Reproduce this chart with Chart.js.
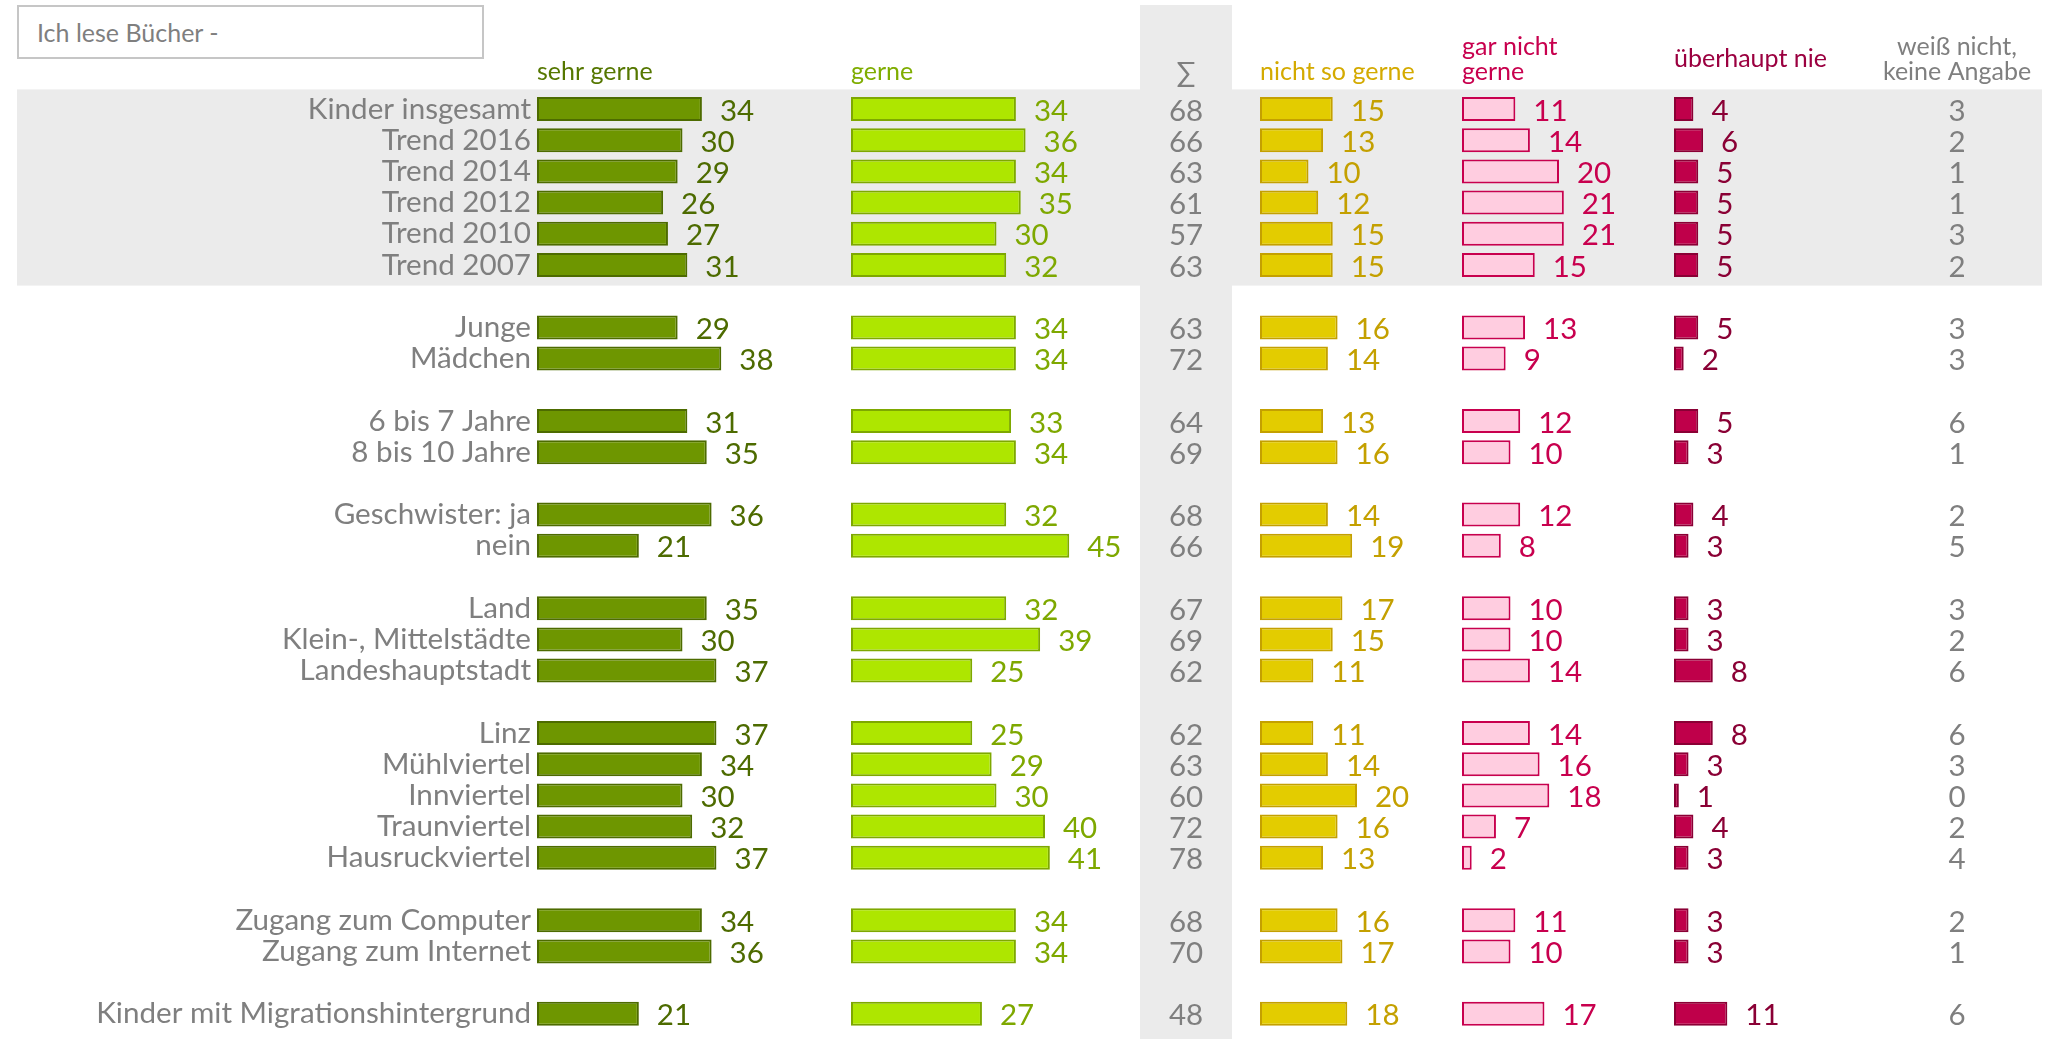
<!DOCTYPE html>
<html lang="de">
<head>
<meta charset="utf-8">
<title>Ich lese Bücher</title>
<script src="https://cdn.jsdelivr.net/npm/chart.js@4.4.1/dist/chart.umd.min.js"></script>
<style>
  html, body { margin: 0; padding: 0; background: #fff; }
  #wrap { position: relative; width: 2050px; height: 1040px; }
  #frage {
    position: absolute; left: 17px; top: 5px; width: 467px; height: 54px;
    box-sizing: border-box; border: 2px solid #c6c6c6; background: #fff;
    font: 25px Lato, sans-serif; color: #7f7f7f; padding-left: 18px; line-height: 50px;
  }
</style>
</head>
<body>
<div id="wrap">
  <canvas id="chart" width="2050" height="1040"></canvas>
  <div id="frage">Ich lese Bücher -</div>
</div>
<script>
// Zeilen in Gruppen, zwischen den Gruppen bleibt eine Leerzeile
const gruppen = [
  ['Kinder insgesamt', 'Trend 2016', 'Trend 2014', 'Trend 2012', 'Trend 2010', 'Trend 2007'],
  ['Junge', 'Mädchen'],
  ['6 bis 7 Jahre', '8 bis 10 Jahre'],
  ['Geschwister: ja', 'nein'],
  ['Land', 'Klein-, Mittelstädte', 'Landeshauptstadt'],
  ['Linz', 'Mühlviertel', 'Innviertel', 'Traunviertel', 'Hausruckviertel'],
  ['Zugang zum Computer', 'Zugang zum Internet'],
  ['Kinder mit Migrationshintergrund']
];

// Werte in %
const sehrGerne     = [34, 30, 29, 26, 27, 31, 29, 38, 31, 35, 36, 21, 35, 30, 37, 37, 34, 30, 32, 37, 34, 36, 21];
const gerne         = [34, 36, 34, 35, 30, 32, 34, 34, 33, 34, 32, 45, 32, 39, 25, 25, 29, 30, 40, 41, 34, 34, 27];
const summe         = [68, 66, 63, 61, 57, 63, 63, 72, 64, 69, 68, 66, 67, 69, 62, 62, 63, 60, 72, 78, 68, 70, 48];
const nichtSoGerne  = [15, 13, 10, 12, 15, 15, 16, 14, 13, 16, 14, 19, 17, 15, 11, 11, 14, 20, 16, 13, 16, 17, 18];
const garNichtGerne = [11, 14, 20, 21, 21, 15, 13, 9, 12, 10, 12, 8, 10, 10, 14, 14, 16, 18, 7, 2, 11, 10, 17];
const ueberhauptNie = [4, 6, 5, 5, 5, 5, 5, 2, 5, 3, 4, 3, 3, 3, 8, 8, 3, 1, 4, 3, 3, 3, 11];
const weissNicht    = [3, 2, 1, 1, 3, 2, 3, 3, 6, 1, 2, 5, 3, 2, 6, 6, 3, 0, 2, 4, 2, 1, 6];

const labels = [];
const zeile = [];
gruppen.forEach((g, gi) => {
  if (gi > 0) labels.push('');
  g.forEach(name => { zeile.push(labels.length); labels.push(name); });
});
function auffuellen(werte) {
  const out = labels.map(() => null);
  werte.forEach((v, i) => { out[zeile[i]] = v; });
  return out;
}

const PX = 4.85; // Pixel je Prozentpunkt
const spalten = [
  { id: 'xSG', breite: 314 },
  { id: 'xG', breite: 289 },
  { id: 'xSum', breite: 92 },
  { id: 'xLuecke', breite: 28 },
  { id: 'xNSG', breite: 202 },
  { id: 'xGNG', breite: 212 },
  { id: 'xUN', breite: 206 },
  { id: 'xWN', breite: 154 }
];

const FONT = 'Lato, sans-serif';
const GRAU = '#7f7f7f';

const scales = {
  y: {
    type: 'category',
    position: 'left',
    grid: { display: false, drawTicks: false },
    border: { display: false },
    ticks: { autoSkip: false, color: GRAU, font: { family: FONT, size: 29.6 }, padding: 6 },
    afterFit(scale) {
      scale.width = 537;
      scale.paddingTop = 0;
      scale.paddingBottom = 0;
    }
  }
};
spalten.forEach((s, i) => {
  scales[s.id] = {
    type: 'linear', axis: 'x', position: 'bottom', display: false,
    stack: 'spalten', stackWeight: s.breite, weight: i,
    min: 0, max: s.breite / PX
  };
});

function balken(label, werte, achse, fuellung, rand, textFarbe) {
  return {
    label, data: auffuellen(werte), xAxisID: achse, yAxisID: 'y',
    backgroundColor: fuellung, borderColor: rand, borderWidth: 2, borderSkipped: false,
    grouped: false, categoryPercentage: 1, barPercentage: 0.77,
    textFarbe
  };
}

const datasets = [
  balken('sehr gerne', sehrGerne, 'xSG', '#6e9600', '#4d6b00', '#4d6b00'),
  balken('gerne', gerne, 'xG', '#aee600', '#7ea800', '#7ea800'),
  balken('nicht so gerne', nichtSoGerne, 'xNSG', '#e3cc00', '#c4a000', '#c4a000'),
  balken('gar nicht gerne', garNichtGerne, 'xGNG', '#ffcde0', '#c8004e', '#c8004e'),
  balken('überhaupt nie', ueberhauptNie, 'xUN', '#bf004a', '#8a0035', '#8a0035')
];

const tabelle = {
  id: 'tabelle',
  beforeDraw(chart) {
    const { ctx } = chart;
    const y = chart.scales.y;
    const h = y.height / labels.length;
    ctx.save();
    ctx.fillStyle = '#fff';
    ctx.fillRect(0, 0, chart.width, chart.height);
    ctx.fillStyle = '#ebebeb';
    const oben = y.getPixelForValue(zeile[0]) - h / 2 - 4;
    const unten = y.getPixelForValue(zeile[gruppen[0].length - 1]) + h / 2 + 5;
    ctx.fillRect(17, oben, 2025, unten - oben);
    const s = chart.scales.xSum;
    ctx.fillRect(s.left, 5, s.width, chart.height - 6);
    ctx.restore();
  },
  afterDatasetsDraw(chart) {
    const { ctx } = chart;
    const y = chart.scales.y;
    ctx.save();
    ctx.font = '29.5px ' + FONT;
    ctx.textBaseline = 'middle';
    ctx.textAlign = 'left';
    chart.data.datasets.forEach((ds, di) => {
      ctx.fillStyle = ds.textFarbe;
      chart.getDatasetMeta(di).data.forEach((el, i) => {
        if (ds.data[i] === null) return;
        ctx.fillText(String(ds.data[i]), el.x + 18, el.y + 2);
      });
    });
    ctx.textAlign = 'center';
    ctx.fillStyle = GRAU;
    const mitte = id => (chart.scales[id].left + chart.scales[id].right) / 2;
    summe.forEach((v, i) => ctx.fillText(String(v), mitte('xSum'), y.getPixelForValue(zeile[i]) + 2));
    weissNicht.forEach((v, i) => ctx.fillText(String(v), mitte('xWN'), y.getPixelForValue(zeile[i]) + 2));

    // Spaltenköpfe
    ctx.font = '25px ' + FONT;
    ctx.textBaseline = 'alphabetic';
    ctx.textAlign = 'left';
    const links = id => chart.scales[id].left;
    ctx.fillStyle = '#557700';
    ctx.fillText('sehr gerne', links('xSG'), 80);
    ctx.fillStyle = '#7fad00';
    ctx.fillText('gerne', links('xG'), 80);
    ctx.fillStyle = '#d4aa00';
    ctx.fillText('nicht so gerne', links('xNSG'), 80);
    ctx.fillStyle = '#c8004e';
    ctx.fillText('gar nicht', links('xGNG'), 55);
    ctx.fillText('gerne', links('xGNG'), 80);
    ctx.fillStyle = '#9b0040';
    ctx.fillText('überhaupt nie', links('xUN'), 67);
    ctx.textAlign = 'center';
    ctx.fillStyle = GRAU;
    ctx.fillText('weiß nicht,', mitte('xWN'), 55);
    ctx.fillText('keine Angabe', mitte('xWN'), 80);
    ctx.font = '28px ' + FONT;
    ctx.fillText('∑', mitte('xSum'), 82);
    ctx.restore();
  }
};

new Chart(document.getElementById('chart'), {
  type: 'bar',
  data: { labels, datasets },
  options: {
    indexAxis: 'y',
    responsive: false,
    animation: false,
    layout: { padding: { top: 93.4, bottom: 10.6, left: 0, right: 16 } },
    scales,
    plugins: { legend: { display: false }, tooltip: { enabled: false } }
  },
  plugins: [tabelle]
});
</script>
</body>
</html>
